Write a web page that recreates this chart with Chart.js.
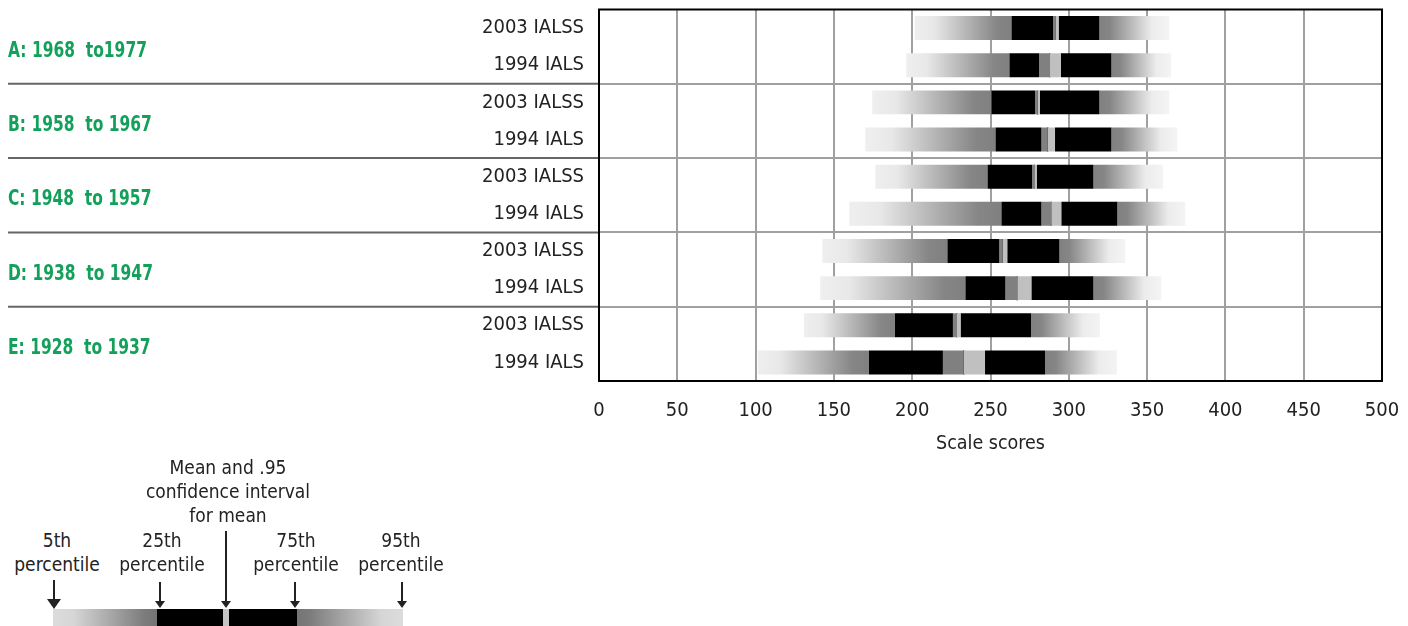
<!DOCTYPE html>
<html>
<head>
<meta charset="utf-8">
<script src="https://cdn.jsdelivr.net/npm/chart.js@4/dist/chart.umd.min.js"></script>
<style>
html,body{margin:0;padding:0;background:#fff;}
body{width:1408px;height:626px;position:relative;overflow:hidden;font-family:"DejaVu Sans Condensed","Liberation Sans",sans-serif;color:#222;}
#wrap{position:absolute;left:0;top:0;width:1408px;height:470px;}
.lg{position:absolute;font-size:19px;line-height:24px;text-align:center;color:#222;white-space:nowrap;transform:translateX(-50%);}
.grp{position:absolute;left:8px;font-size:21px;line-height:26px;font-weight:bold;color:#13a05a;white-space:pre;transform:scaleX(0.82);transform-origin:0 50%;}
.stem{position:absolute;width:2px;background:#222;}
.head{position:absolute;width:0;height:0;border-left:5px solid transparent;border-right:5px solid transparent;border-top:7px solid #222;}
.head.big{border-left:7px solid transparent;border-right:7px solid transparent;border-top:10px solid #222;}
.seg{position:absolute;top:609px;height:20px;}
</style>
</head>
<body>
<div id="wrap"><canvas id="c"></canvas></div>
<div id="groups"></div>

<!-- explanatory key -->
<div class="lg" style="left:228px;top:455px;">Mean and .95<br>confidence interval<br>for mean</div>
<div class="lg" style="left:57px;top:528px;">5th<br>percentile</div>
<div class="lg" style="left:162px;top:528px;">25th<br>percentile</div>
<div class="lg" style="left:296px;top:528px;">75th<br>percentile</div>
<div class="lg" style="left:401px;top:528px;">95th<br>percentile</div>

<div class="stem" style="left:53px;top:580px;height:20px;"></div>
<div class="head big" style="left:47px;top:599px;"></div>
<div class="stem" style="left:159px;top:582px;height:20px;"></div>
<div class="head" style="left:155px;top:601px;"></div>
<div class="stem" style="left:225px;top:531px;height:71px;"></div>
<div class="head" style="left:221px;top:601px;"></div>
<div class="stem" style="left:294px;top:582px;height:20px;"></div>
<div class="head" style="left:290px;top:601px;"></div>
<div class="stem" style="left:401px;top:582px;height:20px;"></div>
<div class="head" style="left:397px;top:601px;"></div>

<div class="seg" style="left:53px;width:104px;background:linear-gradient(to right,#dcdcdc 0%,#d6d6d6 20%,#7c7c7c 88%,#747474 100%);"></div>
<div class="seg" style="left:157px;width:66px;background:#000;"></div>
<div class="seg" style="left:223px;width:6px;background:#c4c4c4;"></div>
<div class="seg" style="left:229px;width:68px;background:#000;"></div>
<div class="seg" style="left:297px;width:106px;background:linear-gradient(to right,#747474 0%,#7c7c7c 12%,#d6d6d6 80%,#dcdcdc 100%);"></div>

<script>
// ---- data ----
const rowLabels = ['2003 IALSS','1994 IALS','2003 IALSS','1994 IALS','2003 IALSS','1994 IALS','2003 IALSS','1994 IALS','2003 IALSS','1994 IALS'];
const groupLabels = ['A: 1968  to1977','B: 1958  to 1967','C: 1948  to 1957','D: 1938  to 1947','E: 1928  to 1937'];
const rowsPerGroup = 2;
const xTickValues = [0,50,100,150,200,250,300,350,400,450,500];

const p5     = [201.6,196.2,174.5,170.0,176.4,159.8,142.6,141.3,130.9,101.5];
const p25    = [263.3,262.0,250.5,253.1,248.0,256.9,222.4,233.9,189.0,172.4];
const ciLow  = [290.0,281.0,278.5,282.5,276.5,282.5,255.6,259.5,226.0,219.6];
const mean   = [291.5,288.0,280.0,286.5,278.0,288.8,257.8,267.1,228.6,232.9];
const ciHigh = [293.5,295.0,281.5,291.2,279.5,295.2,260.7,276.1,230.9,246.5];
const p75    = [319.5,327.2,319.5,327.2,315.7,331.0,294.0,315.7,275.9,284.8];
const p95    = [364.2,365.3,364.2,369.3,360.2,374.4,336.1,359.1,319.9,330.8];

// ---- styling ----
const FONT = '"DejaVu Sans Condensed","Liberation Sans",sans-serif';
const TXT = '#222';

const pairs = (a,b) => a.map((v,i)=>[v,b[i]]);

function grad(ctx, side){
  const chart = ctx.chart;
  if (!chart.chartArea || ctx.type !== 'data' || !ctx.raw) return '#999';
  const xs = chart.scales.x;
  const x0 = xs.getPixelForValue(ctx.raw[0]);
  const x1 = xs.getPixelForValue(ctx.raw[1]);
  const g = chart.ctx.createLinearGradient(x0,0,x1,0);
  if (side === 'left') {
    g.addColorStop(0,'#efefef'); g.addColorStop(0.2,'#e8e8e8');
    g.addColorStop(0.85,'#868686'); g.addColorStop(1,'#808080');
  } else {
    g.addColorStop(0,'#808080'); g.addColorStop(0.15,'#868686');
    g.addColorStop(0.75,'#ececec'); g.addColorStop(1,'#f4f4f4');
  }
  return g;
}

const noPad = s => { s.paddingTop = 0; s.paddingBottom = 0; s.paddingLeft = 0; s.paddingRight = 0; };

const frame = {
  id:'frame',
  afterDatasetsDraw(chart){
    const {ctx, chartArea:{left,right,top,bottom}} = chart;
    const ys = chart.scales.y;
    ctx.save();
    ctx.strokeStyle = '#666'; ctx.lineWidth = 2;
    for (let i = rowsPerGroup; i < rowLabels.length; i += rowsPerGroup) {
      const y = (ys.getPixelForValue(i-1) + ys.getPixelForValue(i)) / 2;
      ctx.beginPath(); ctx.moveTo(8,y); ctx.lineTo(left,y); ctx.stroke();
    }
    ctx.strokeStyle = '#000'; ctx.lineWidth = 2;
    ctx.strokeRect(left, top, right-left, bottom-top);
    ctx.restore();
  }
};

// group (birth cohort) labels, placed at the centre of their rows on the y scale
const groupText = {
  id:'groupText',
  afterRender(chart){
    const host = document.getElementById('groups');
    if (host.childElementCount) return;
    const ys = chart.scales.y;
    groupLabels.forEach((t,g)=>{
      const a = ys.getPixelForValue(g*rowsPerGroup);
      const b = ys.getPixelForValue(g*rowsPerGroup + rowsPerGroup - 1);
      const d = document.createElement('div');
      d.className = 'grp';
      d.textContent = t;
      d.style.top = ((a+b)/2 - 10) + 'px';
      host.appendChild(d);
    });
  }
};

const common = {borderWidth:0, borderSkipped:false, categoryPercentage:1, barPercentage:0.645, grouped:false};

new Chart(document.getElementById('c'), {
  type:'bar',
  data:{
    labels: rowLabels,
    datasets:[
      Object.assign({label:'5th–25th', data:pairs(p5,p25), backgroundColor:c=>grad(c,'left')}, common),
      Object.assign({label:'25th–CI', data:pairs(p25,ciLow), backgroundColor:'#000'}, common),
      Object.assign({label:'CI lower', data:pairs(ciLow,mean), backgroundColor:'#808080'}, common),
      Object.assign({label:'CI upper', data:pairs(mean,ciHigh), backgroundColor:'#c0c0c0'}, common),
      Object.assign({label:'CI–75th', data:pairs(ciHigh,p75), backgroundColor:'#000'}, common),
      Object.assign({label:'75th–95th', data:pairs(p75,p95), backgroundColor:c=>grad(c,'right')}, common),
      {type:'scatter', label:'Mean', data: mean.map((m,i)=>({x:m,y:i})),
       pointStyle:'line', rotation:90, radius:12, hoverRadius:12, borderColor:'#111', borderWidth:1.5}
    ]
  },
  options:{
    indexAxis:'y',
    responsive:true,
    maintainAspectRatio:false,
    animation:false,
    events:[],
    layout:{autoPadding:false, padding:{left:8, right:26, top:9.5, bottom:14}},
    plugins:{legend:{display:false}, tooltip:{enabled:false}},
    scales:{
      x:{
        type:'linear', min:0, max:500, position:'bottom',
        afterBuildTicks:s=>{ s.ticks = xTickValues.map(v=>({value:v})); },
        afterFit:s=>{ s.height = 75; noPad(s); },
        grid:{color:'#a0a0a0', lineWidth:2, drawTicks:false},
        border:{display:false},
        ticks:{padding:18, color:TXT, font:{family:FONT, size:20}, maxRotation:0},
        title:{display:true, text:'Scale scores', color:TXT, font:{family:FONT, size:19.5}, padding:{top:0,bottom:0}}
      },
      y:{
        type:'category', position:'left', offset:true,
        afterFit:s=>{ s.width = 591; noPad(s); },
        grid:{offset:true, drawTicks:false, lineWidth:2,
              color:c=>(c.index>0 && c.index<rowLabels.length && c.index%rowsPerGroup===0) ? '#a0a0a0' : 'rgba(0,0,0,0)'},
        border:{display:false},
        ticks:{padding:15, color:TXT, font:{family:FONT, size:20}, autoSkip:false}
      }
    }
  },
  plugins:[frame, groupText]
});
</script>
</body>
</html>
